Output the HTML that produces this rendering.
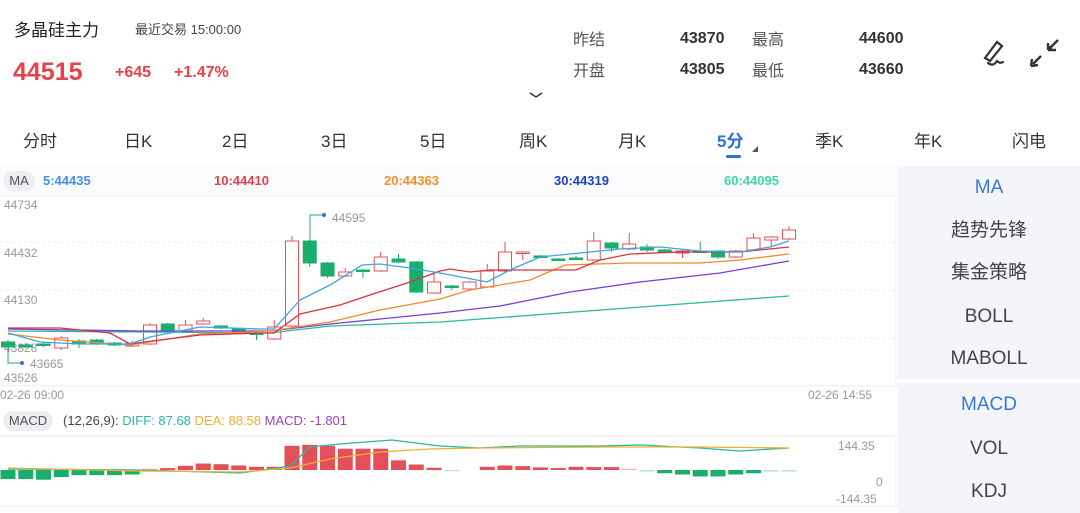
<!DOCTYPE html>
<html><head><meta charset="utf-8">
<style>
*{margin:0;padding:0;box-sizing:border-box}
body{width:1080px;height:513px;background:#fff;font-family:"Liberation Sans","Noto Sans CJK SC",sans-serif;position:relative;overflow:hidden;color:#333}
.a{position:absolute;white-space:nowrap}
</style></head><body>
<div class="a" style="left:14px;top:16px;font-size:17px;color:#222">多晶硅主力</div>
<div class="a" style="left:135px;top:19px;font-size:13px;color:#444">最近交易 15:00:00</div>
<div class="a" style="left:13px;top:58px;font-size:25px;font-weight:bold;color:#e8414a">44515</div>
<div class="a" style="left:115px;top:64px;font-size:16px;font-weight:bold;color:#e8414a">+645</div>
<div class="a" style="left:174px;top:64px;font-size:16px;font-weight:bold;color:#e8414a">+1.47%</div>
<div class="a" style="left:573px;top:26px;font-size:16px;color:#555">昨结</div>
<div class="a" style="left:680px;top:30px;font-size:16px;font-weight:bold;color:#333">43870</div>
<div class="a" style="left:752px;top:26px;font-size:16px;color:#555">最高</div>
<div class="a" style="left:859px;top:30px;font-size:16px;font-weight:bold;color:#333">44600</div>
<div class="a" style="left:573px;top:57px;font-size:16px;color:#555">开盘</div>
<div class="a" style="left:680px;top:61px;font-size:16px;font-weight:bold;color:#333">43805</div>
<div class="a" style="left:752px;top:57px;font-size:16px;color:#555">最低</div>
<div class="a" style="left:859px;top:61px;font-size:16px;font-weight:bold;color:#333">43660</div>
<svg class="a" style="left:975px;top:33px" width="90" height="40">
<path d="M10 25 L22 9 L27 13 L15 28 Z M13 30 Q18 34 22 28 Q25 31 28 29" fill="none" stroke="#333" stroke-width="2.2" stroke-linecap="round"/>
<path d="M58 31 L66 23 M56 33 L57 26 M56 33 L63 32" stroke="#333" stroke-width="2.4" fill="none"/>
<path d="M83 7 L75 15 M77 15 L75 15 L75 13 M73 17 L81 17 M73 17 L73 10" stroke="#333" stroke-width="2.4" fill="none"/>
</svg>
<svg class="a" style="left:528px;top:90px" width="16" height="10"><path d="M2 3 L8 7 L14 3" stroke="#333" stroke-width="1.5" fill="none"/></svg>
<div class="a" style="top:127px;left:0;width:1080px;font-size:17px;color:#333">
<span class="a" style="left:23px">分时</span><span class="a" style="left:124px">日K</span><span class="a" style="left:222px">2日</span><span class="a" style="left:321px">3日</span><span class="a" style="left:420px">5日</span><span class="a" style="left:519px">周K</span><span class="a" style="left:618px">月K</span><span class="a" style="left:717px;color:#2f6fd6;font-weight:bold">5分</span><span class="a" style="left:815px">季K</span><span class="a" style="left:914px">年K</span><span class="a" style="left:1012px">闪电</span>
</div>
<div class="a" style="left:726px;top:155px;width:15px;height:3px;border-radius:2px;background:#2f6fd6"></div>
<svg class="a" style="left:751px;top:145px" width="8" height="8"><path d="M7 1 L7 7 L1 7Z" fill="#555"/></svg>
<div class="a" style="left:0;top:166px;width:898px;height:29px;background:#fafbfc"></div>
<div class="a" style="left:3px;top:171px;width:32px;height:20px;border-radius:10px;background:#eceef1;font-size:13px;color:#555;text-align:center;line-height:20px">MA</div>
<div class="a" style="left:43px;top:173px;font-size:13px;font-weight:bold;color:#4a8fe0">5:44435</div>
<div class="a" style="left:214px;top:173px;font-size:13px;font-weight:bold;color:#e0414b">10:44410</div>
<div class="a" style="left:384px;top:173px;font-size:13px;font-weight:bold;color:#f0902e">20:44363</div>
<div class="a" style="left:554px;top:173px;font-size:13px;font-weight:bold;color:#2140c4">30:44319</div>
<div class="a" style="left:724px;top:173px;font-size:13px;font-weight:bold;color:#3dd6b0">60:44095</div>
<div class="a" style="left:898px;top:166px;width:182px;height:214px;background:#f3f5f8"></div>
<div class="a" style="left:898px;top:383px;width:182px;height:130px;background:#f3f5f8"></div>
<div class="a" style="left:898px;top:176px;width:182px;text-align:center;font-size:19px;line-height:24px;color:#3a78d6">MA</div>
<div class="a" style="left:898px;top:219px;width:182px;text-align:center;font-size:19px;line-height:24px;color:#444">趋势先锋</div>
<div class="a" style="left:898px;top:261px;width:182px;text-align:center;font-size:19px;line-height:24px;color:#444">集金策略</div>
<div class="a" style="left:898px;top:305px;width:182px;text-align:center;font-size:19px;line-height:24px;color:#444">BOLL</div>
<div class="a" style="left:898px;top:347px;width:182px;text-align:center;font-size:19px;line-height:24px;color:#444">MABOLL</div>
<div class="a" style="left:898px;top:393px;width:182px;text-align:center;font-size:19px;line-height:24px;color:#3a78d6">MACD</div>
<div class="a" style="left:898px;top:437px;width:182px;text-align:center;font-size:19px;line-height:24px;color:#444">VOL</div>
<div class="a" style="left:898px;top:480px;width:182px;text-align:center;font-size:19px;line-height:24px;color:#444">KDJ</div>
<div class="a" style="left:3px;top:411px;width:50px;height:20px;border-radius:10px;background:#eceef1;font-size:13px;color:#555;text-align:center;line-height:20px">MACD</div>
<div class="a" style="left:63px;top:413px;font-size:13px;color:#444">(12,26,9): <span style="color:#2bb5a5">DIFF: 87.68</span> <span style="color:#f0b030">DEA: 88.58</span> <span style="color:#a040c8">MACD: -1.801</span></div>
<svg class="a" style="left:0;top:0" width="898" height="513" id="s">
<g stroke="#eceef0" stroke-width="1" fill="none">
<line x1="0" y1="196" x2="898" y2="196"/><line x1="0" y1="386" x2="898" y2="386"/>
<line x1="896" y1="196" x2="896" y2="386"/>
<line x1="0" y1="242" x2="896" y2="242" stroke-dasharray="3,3"/>
<line x1="0" y1="290" x2="896" y2="290" stroke-dasharray="3,3"/>
<line x1="0" y1="338" x2="896" y2="338" stroke-dasharray="3,3"/>
<line x1="0" y1="436" x2="898" y2="436"/><line x1="0" y1="506" x2="898" y2="506"/>
<line x1="896" y1="436" x2="896" y2="506"/>
</g>
<g font-size="12" fill="#999" font-family="Liberation Sans,sans-serif">
<text x="4" y="209">44734</text><text x="4" y="257">44432</text><text x="4" y="304">44130</text>
<text x="4" y="382">43526</text><text x="4" y="352">43828</text>
<text x="0" y="399">02-26 09:00</text><text x="808" y="399">02-26 14:55</text>
<text x="838" y="450">144.35</text><text x="876" y="486">0</text><text x="836" y="503">-144.35</text>
<text x="332" y="222">44595</text><text x="30" y="368">43665</text>
</g>
<path d="M310 241 V215 H324" stroke="#2aa878" fill="none"/><circle cx="324" cy="215" r="2" fill="#3a6fd6"/>
<path d="M8 350 V363 H22" stroke="#2aa878" fill="none"/><circle cx="22" cy="363" r="2" fill="#3a6fd6"/>
<g id="c"></g><g id="m"></g>
</svg>
<script>
var R="#e4505a",G="#1aae6c";
var C=[[342,347,340,363,0],[345,347,343,348,0],[344,345,342,347,0],[338,348,336,350,1],[341,344,339,348,0],[340,343,339,345,0],[343,345,342,346,0],[343,346,341,347,1],[325,344,323,345,1],[324,331,323,332,0],[325,332,320,333,1],[321,324,318,325,1],[326,328,325,329,0],[329,332,328,333,0],[333,334,332,340,0],[327,339,320,340,1],[241,326,236,327,1],[241,263,240,267,0],[263,276,262,278,0],[272,276,268,277,1],[270,271,269,278,0],[257,271,252,272,1],[259,262,254,263,0],[262,292,261,293,0],[282,293,274,294,1],[286,287,285,290,0],[282,289,281,290,1],[271,287,264,288,1],[252,271,242,272,1],[252,253,252,260,1],[256,257,255,258,0],[259,260,258,261,0],[258,259,256,260,0],[241,260,232,261,1],[243,248,242,252,0],[244,249,233,250,1],[247,250,244,252,0],[250,252,249,253,0],[251,253,250,258,1],[251,252,242,253,0],[251,257,250,259,0],[251,257,250,258,1],[238,250,233,251,1],[237,240,236,246,1],[230,239,226,240,1]];
var s="",X=function(i){return 8+17.75*i};
C.forEach(function(c,i){var x=X(i),col=c[4]?R:G,h=Math.max(c[1]-c[0],1.5);
s+='<line x1="'+x+'" y1="'+c[2]+'" x2="'+x+'" y2="'+c[3]+'" stroke="'+col+'"/>';
s+='<rect x="'+(x-6.5)+'" y="'+c[0]+'" width="13" height="'+h+'" fill="'+(c[4]?'#fff':col)+'" stroke="'+col+'"/>';});
function L(p,col){return '<polyline points="'+p+'" fill="none" stroke="'+col+'" stroke-width="1.3"/>'}
s+=L("8,331 270,333 330,326 440,322 789,296","#2cb8a0");
s+=L("8,329 140,331 270,331 330,324 400,317 440,313 500,306 570,292 640,282 720,273 789,261","#7b3fd6");
s+=L("8,334 60,340 130,345 200,334 270,331 330,322 380,310 440,299 470,290 530,280 565,265 628,263 700,263 740,260 789,254","#f08a2c");
s+=L("8,328 60,328 110,333 130,344 160,340 200,335 260,333 274,333 300,314 340,305 370,295 410,282 440,271 450,269 470,272 490,270 576,270 600,260 630,254 680,252 740,252 789,247","#d8343f");
s+=L("8,333 40,342 80,344 130,344 150,337 200,327 260,329 274,329 300,300 330,285 362,265 380,264 410,268 440,273 487,282 510,270 540,257 580,253 620,249 660,247 700,251 740,252 770,247 789,241","#3ba7dc");
var M=[-28,-28,-30,-22,-16,-16,-16,-14,4,6,13,20,18,14,10,10,75,78,75,66,66,66,30,17,7,-4,0,10,14,12,8,6,10,9,9,4,-5,-10,-14,-20,-20,-14,-10,-5,-5];
var b=470;M.forEach(function(v,i){var h=v/3.1,x=X(i)-7.5,col=v>0?(v<6?"#f3b3b7":R):(v>-6?"#bfe6d5":G);
if(v==0)return;s+='<rect x="'+x+'" y="'+(h>0?b-h:b)+'" width="15" height="'+Math.abs(h)+'" fill="'+col+'"/>';});
s+=L("8,469 140,470 240,473 270,469 290,466 310,447 340,444 392,440 440,446 480,448 520,446 600,446 640,445 700,448 740,451 789,448","#2bb5a5");
s+=L("8,468 140,471 240,472 290,468 330,459 380,452 430,449 480,448 600,447 700,447 789,448","#f0b030");
document.getElementById("c").innerHTML=s;
</script>
</body></html>
